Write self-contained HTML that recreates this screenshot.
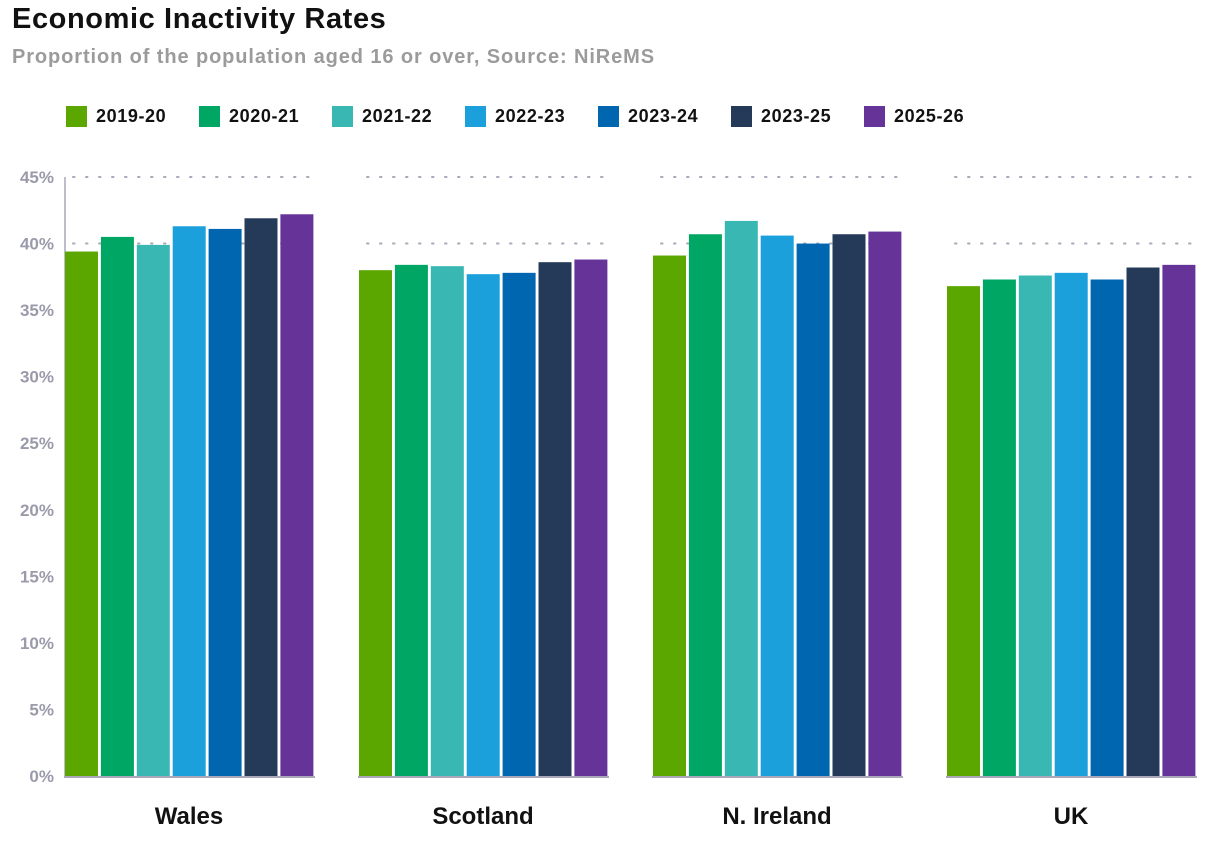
<!DOCTYPE html>
<html><head><meta charset="utf-8"><style>
body{margin:0;background:#fff;font-family:"Liberation Sans",sans-serif;}
#wrap{position:relative;width:1208px;height:842px;overflow:hidden}
h1{position:absolute;left:12px;top:3px;margin:0;font-size:29px;font-weight:bold;color:#111;letter-spacing:0.6px}
.sub{position:absolute;left:12px;top:46px;font-size:20px;font-weight:bold;color:#9b9b9b;letter-spacing:0.9px}
.legend{position:absolute;left:66px;top:106px;display:flex;font-size:18px;font-weight:bold;color:#111;letter-spacing:0.6px}
.li{display:flex;align-items:center;width:133px}
.sw{width:21px;height:21px;margin-right:9px}
</style></head><body>
<div id="wrap">
<h1>Economic Inactivity Rates</h1>
<div class="sub">Proportion of the population aged 16 or over, Source: NiReMS</div>
<div class="legend" id="legend"></div>
<svg id="svg" width="1208" height="842" style="position:absolute;left:0;top:0"></svg>
</div>
<script>
const groups=["Wales","Scotland","N. Ireland","UK"];
const seriesNames=["2019-20","2020-21","2021-22","2022-23","2023-24","2023-25","2025-26"];
const colors=["#5ba700","#00a664","#38b7b3","#1ba0dc","#0066b0","#253a59","#663399"];
const wales=[39.4,40.5,39.9,41.3,41.1,41.9,42.2];
const scotland=[38.0,38.4,38.3,37.7,37.8,38.6,38.8];
const nireland=[39.1,40.7,41.7,40.6,40.0,40.7,40.9];
const uk=[36.8,37.3,37.6,37.8,37.3,38.2,38.4];
const values=[wales,scotland,nireland,uk];
const yTicks=[0,5,10,15,20,25,30,35,40,45];
const gridTicks=[40,45];
const NS="http://www.w3.org/2000/svg";
const svg=document.getElementById('svg');
const y=v=>776-v*(599/45);
const groupX=g=>65+g*294;
const barX=(g,i)=>groupX(g)+i*35.9;
function mk(t,a){const e=document.createElementNS(NS,t);for(const k in a)e.setAttribute(k,a[k]);svg.appendChild(e);return e;}
const lg=document.getElementById('legend');
seriesNames.forEach((s,i)=>{const d=document.createElement('div');d.className='li';


d.innerHTML='<span class="sw" style="background:'+colors[i]+'"></span>'+s;lg.appendChild(d);});
yTicks.forEach(t=>{const e=mk('text',{x:54,y:y(t)+6,'text-anchor':'end','font-size':17,'font-weight':'bold',fill:'#9a9aaa'});e.textContent=t+'%';

});
groups.forEach((g,gi)=>{
 gridTicks.forEach(t=>{const l=mk('line',{x1:groupX(gi)+8,x2:groupX(gi)+248,y1:y(t),y2:y(t),stroke:'#a8a8b8','stroke-width':2,'stroke-dasharray':'1.5 11.5','stroke-linecap':'round'});
 
 });
});
mk('line',{x1:65,y1:y(45),x2:65,y2:776,stroke:'#a8a8b8','stroke-width':1.5});
groups.forEach((g,gi)=>{
 values[gi].forEach((v,i)=>{const r=mk('rect',{x:barX(gi,i),y:y(v),width:33,height:776-y(v),fill:colors[i]});
 
 });
 const b=mk('line',{x1:groupX(gi)-1,x2:groupX(gi)+250,y1:777,y2:777,stroke:'#a8a8b8','stroke-width':2});
 
 
 const t=mk('text',{x:groupX(gi)+124,y:824,'text-anchor':'middle','font-size':24,'font-weight':'bold',fill:'#111'});t.textContent=g;
 
 
});
</script>
</body></html>
